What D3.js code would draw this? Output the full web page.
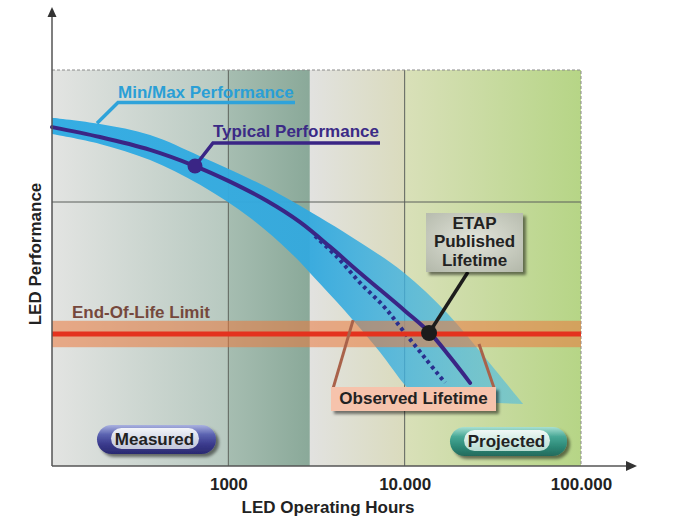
<!DOCTYPE html>
<html><head><meta charset="utf-8">
<script src="https://cdn.jsdelivr.net/npm/d3@7"></script>
<style>body{margin:0;background:#fff}svg{display:block}text{font-family:"Liberation Sans",Arial,sans-serif;font-weight:bold}</style>
</head><body>
<svg id="c" width="676" height="520"></svg>
<script>
// ---------- data ----------
const hoursDomain = [100, 100000];
const perfDomain = [0, 120];
const xTickValues = [1000, 10000, 100000];
const xTickLabels = ["1000", "10.000", "100.000"];
const gridHours = [1000, 10000];
const gridPerf = [80];
const zoneBounds = [100, 1000, 2900, 10000, 100000];

const typicalHours = [100, 187, 360, 647, 1000, 1660, 2550, 3780, 5590, 10050, 13930, 18090, 23490];
const typicalPerf  = [102.7, 99.7, 95.8, 90.9, 86.4, 80.3, 73.9, 66.4, 58.5, 47.0, 40.3, 33.0, 25.2];

const observedHours = [3100, 4140, 5590, 7600, 9800, 13050, 16950];
const observedPerf  = [69.7, 63.3, 55.5, 48.4, 41.0, 32.7, 25.2];

const bandUpperHours = [100, 187, 360, 691, 1328, 2239, 4901, 9793, 17400, 29340, 46950];
const bandUpperPerf  = [105.5, 103.6, 100.3, 93.9, 87.0, 80.6, 69.7, 58.8, 46.4, 32.1, 18.8];
const bandLowerHours = [100, 187, 360, 691, 1328, 2239, 3312, 5096, 7253, 10050, 12230];
const bandLowerPerf  = [100.6, 97.6, 92.7, 85.2, 75.2, 64.8, 55.2, 44.2, 34.5, 24.5, 20.0];

const eolLimit = 40;
const eolBand = [36, 44];
const typicalMarker = [647, 90.9];
const publishedMarker = [13750, 40.3];
const bracketLeftHours = [5100, 3930], bracketLeftPerf = [44.2, 23.6];
const bracketRightHours = [26400, 32150], bracketRightPerf = [37.0, 23.6];

// ---------- setup ----------
const svg = d3.select("#c");
const x = d3.scaleLog().domain(hoursDomain).range([52, 581]);
const y = d3.scaleLinear().domain(perfDomain).range([466, 70]);
const defs = svg.append("defs");

const zoneColors = [["#e3e4e2","#b7c9c0"],["#a6bdb1","#8aa999"],["#e2e2e0","#dadbbd"],["#d9e0b9","#b6d586"]];
zoneColors.forEach((c,i)=>{
  const g = defs.append("linearGradient").attr("id","z"+i).attr("x1",0).attr("x2",1).attr("y1",0).attr("y2",0);
  g.append("stop").attr("offset",0).attr("stop-color",c[0]);
  g.append("stop").attr("offset",1).attr("stop-color",c[1]);
});
const bg = defs.append("linearGradient").attr("id","bandG").attr("gradientUnits","userSpaceOnUse")
  .attr("x1",52).attr("x2",525).attr("y1",0).attr("y2",0);
bg.append("stop").attr("offset",0).attr("stop-color","#35ade3").attr("stop-opacity",1);
bg.append("stop").attr("offset",0.55).attr("stop-color","#33a9de").attr("stop-opacity",0.95);
bg.append("stop").attr("offset",1).attr("stop-color","#52bde0").attr("stop-opacity",0.6);

const sh = defs.append("filter").attr("id","sh").attr("x","-20%").attr("y","-20%").attr("width","150%").attr("height","170%");
sh.append("feDropShadow").attr("dx",3).attr("dy",3).attr("stdDeviation",1.8).attr("flood-color","#000").attr("flood-opacity",0.5);

const eg = defs.append("radialGradient").attr("id","etapG").attr("cx","50%").attr("cy","45%").attr("r","70%");
eg.append("stop").attr("offset",0).attr("stop-color","#e2e4da");
eg.append("stop").attr("offset",1).attr("stop-color","#b5baac");

function pillGrad(id, c){
  const g = defs.append("linearGradient").attr("id",id).attr("x1",0).attr("x2",0).attr("y1",0).attr("y2",1);
  c.forEach((col,i)=>g.append("stop").attr("offset",i/(c.length-1)).attr("stop-color",col));
}
pillGrad("mOut",["#aab2e0","#5a62b0","#3a3a8c","#2a2a70"]);
pillGrad("mIn",["#f2f4f9","#d6dae8","#c2c6da"]);
pillGrad("pOut",["#a8e0d2","#48a896","#2e8a78","#236a5c"]);
pillGrad("pIn",["#f0f8f5","#d2ebe4","#b8dcd2"]);

// ---------- background zones ----------
svg.append("g").selectAll("rect").data(d3.range(zoneBounds.length-1)).join("rect")
  .attr("x",i=>x(zoneBounds[i])).attr("width",i=>x(zoneBounds[i+1])-x(zoneBounds[i]))
  .attr("y",y(perfDomain[1])).attr("height",y(perfDomain[0])-y(perfDomain[1]))
  .attr("fill",i=>`url(#z${i})`);

// grid
svg.append("g").selectAll("line").data(gridHours).join("line")
  .attr("x1",d=>x(d)).attr("x2",d=>x(d)).attr("y1",y(perfDomain[1])).attr("y2",y(perfDomain[0]))
  .attr("stroke","#5a5f5a").attr("stroke-width",1);
svg.append("g").selectAll("line").data(gridPerf).join("line")
  .attr("x1",x(hoursDomain[0])).attr("x2",x(hoursDomain[1])).attr("y1",d=>y(d)).attr("y2",d=>y(d))
  .attr("stroke","#5a5f5a").attr("stroke-width",1);
svg.append("path")
  .attr("d",`M${x(hoursDomain[0])},${y(perfDomain[1])}H${x(hoursDomain[1])}V${y(perfDomain[0])}`)
  .attr("fill","none").attr("stroke","#8a8a8a").attr("stroke-width",1).attr("stroke-dasharray","3,2");

// ---------- min/max band ----------
const line = d3.line().x(d=>x(d[0])).y(d=>y(d[1])).curve(d3.curveCatmullRom.alpha(0.5));
const up = bandUpperHours.map((h,i)=>[h,bandUpperPerf[i]]);
const lo = bandLowerHours.map((h,i)=>[h,bandLowerPerf[i]]).reverse();
svg.append("path").attr("d", line(up) + line(lo).replace(/^M/,"L") + "Z").attr("fill","url(#bandG)");

// ---------- EOL band ----------
svg.append("rect").attr("x",x(hoursDomain[0])).attr("width",x(hoursDomain[1])-x(hoursDomain[0]))
  .attr("y",y(eolBand[1])).attr("height",y(eolBand[0])-y(eolBand[1]))
  .attr("fill","rgb(235,120,60)").attr("fill-opacity",0.55);

// typical + observed
svg.append("path").attr("d", line(typicalHours.map((h,i)=>[h,typicalPerf[i]])))
  .attr("fill","none").attr("stroke","#3a2585").attr("stroke-width",4).attr("stroke-linecap","round");
svg.append("path").attr("d", line(observedHours.map((h,i)=>[h,observedPerf[i]])))
  .attr("fill","none").attr("stroke","#2a2f8e").attr("stroke-width",4).attr("stroke-dasharray","3.5,3.5");

svg.append("line").attr("x1",x(hoursDomain[0])).attr("x2",x(hoursDomain[1])).attr("y1",y(eolLimit)).attr("y2",y(eolLimit))
  .attr("stroke","#e4321e").attr("stroke-width",5);

// ---------- annotations ----------
// Min/Max leader
svg.append("path").attr("d",`M${x(180)},${y(103.9)}L118,102.5H295`)
  .attr("fill","none").attr("stroke","#2fa3da").attr("stroke-width",3.5);
svg.append("text").attr("x",118).attr("y",98).attr("font-size",17).attr("fill","#2a9fd6").text("Min/Max Performance");
// Typical leader
svg.append("path").attr("d",`M${x(typicalMarker[0])},${y(typicalMarker[1])}L213,143H380`)
  .attr("fill","none").attr("stroke","#3a2585").attr("stroke-width",3.5);
svg.append("text").attr("x",213).attr("y",137).attr("font-size",17).attr("fill","#3b2a86").text("Typical Performance");
svg.append("circle").attr("cx",x(typicalMarker[0])).attr("cy",y(typicalMarker[1])).attr("r",7.5).attr("fill","#3a2585");

// EOL text
svg.append("text").attr("x",72).attr("y",318).attr("font-size",17).attr("fill","#75483c").text("End-Of-Life Limit");

// ETAP box
svg.append("path").attr("d",`M468,272L${x(publishedMarker[0])},${y(publishedMarker[1])}`)
  .attr("stroke","#1c1c1c").attr("stroke-width",3.5);
svg.append("rect").attr("x",426).attr("y",213).attr("width",97).attr("height",59).attr("fill","url(#etapG)").attr("filter","url(#sh)");
svg.append("text").attr("x",474.5).attr("font-size",17).attr("fill","#222").attr("text-anchor","middle")
  .selectAll("tspan").data(["ETAP","Published","Lifetime"]).join("tspan")
  .attr("x",474.5).attr("y",(d,i)=>228.5+i*18.5).text(d=>d);
svg.append("circle").attr("cx",x(publishedMarker[0])).attr("cy",y(publishedMarker[1])).attr("r",8).attr("fill","#1c1c1c");

// Observed lifetime brackets + box
const bl = d3.line().x(d=>x(d[0])).y(d=>y(d[1]));
svg.append("path").attr("d",bl(bracketLeftHours.map((h,i)=>[h,bracketLeftPerf[i]])))
  .attr("stroke","#a9624a").attr("stroke-width",3).attr("fill","none");
svg.append("path").attr("d",bl(bracketRightHours.map((h,i)=>[h,bracketRightPerf[i]])))
  .attr("stroke","#a9624a").attr("stroke-width",3).attr("fill","none");
svg.append("rect").attr("x",331).attr("y",387).attr("width",165).attr("height",24).attr("fill","#f6c3ac").attr("filter","url(#sh)");
svg.append("text").attr("x",413.5).attr("y",404).attr("font-size",17).attr("fill","#222").attr("text-anchor","middle").text("Observed Lifetime");

// pills
function pill(px,py,w,h,outer,inner,label){
  const g = svg.append("g");
  g.append("rect").attr("x",px).attr("y",py).attr("width",w).attr("height",h).attr("rx",h/2).attr("fill",`url(#${outer})`).attr("filter","url(#sh)");
  g.append("rect").attr("x",px+14).attr("y",py+3).attr("width",w-31).attr("height",h-8).attr("rx",(h-8)/2).attr("fill",`url(#${inner})`);
  g.append("text").attr("x",px+w/2-2).attr("y",py+19.5).attr("font-size",17).attr("fill","#222").attr("text-anchor","middle").text(label);
}
pill(97,425,119,29,"mOut","mIn","Measured");
pill(450,427,117,29,"pOut","pIn","Projected");

// ---------- axes ----------
const xa = svg.append("g").attr("transform",`translate(0,${y(perfDomain[0])})`)
  .call(d3.axisBottom(x).tickValues(xTickValues).tickFormat((d,i)=>xTickLabels[i]).tickSize(0).tickPadding(12));
xa.select(".domain").remove();
xa.selectAll("text").attr("font-size",17).attr("fill","#222").attr("font-family","Liberation Sans, Arial, sans-serif").attr("font-weight","bold");

svg.append("line").attr("x1",52).attr("x2",627).attr("y1",466).attr("y2",466).attr("stroke","#555").attr("stroke-width",1.5);
svg.append("path").attr("d","M626,461L637,466L626,471Z").attr("fill","#333");
svg.append("line").attr("x1",52).attr("x2",52).attr("y1",466).attr("y2",16).attr("stroke","#555").attr("stroke-width",1.5);
svg.append("path").attr("d","M47.5,17L52,7L56.5,17Z").attr("fill","#333");

svg.append("text").attr("x",328).attr("y",513).attr("font-size",17).attr("fill","#222").attr("text-anchor","middle").text("LED Operating Hours");
svg.append("text").attr("transform","translate(41,254) rotate(-90)").attr("font-size",17).attr("fill","#222").attr("text-anchor","middle").text("LED Performance");
</script>
</body></html>
